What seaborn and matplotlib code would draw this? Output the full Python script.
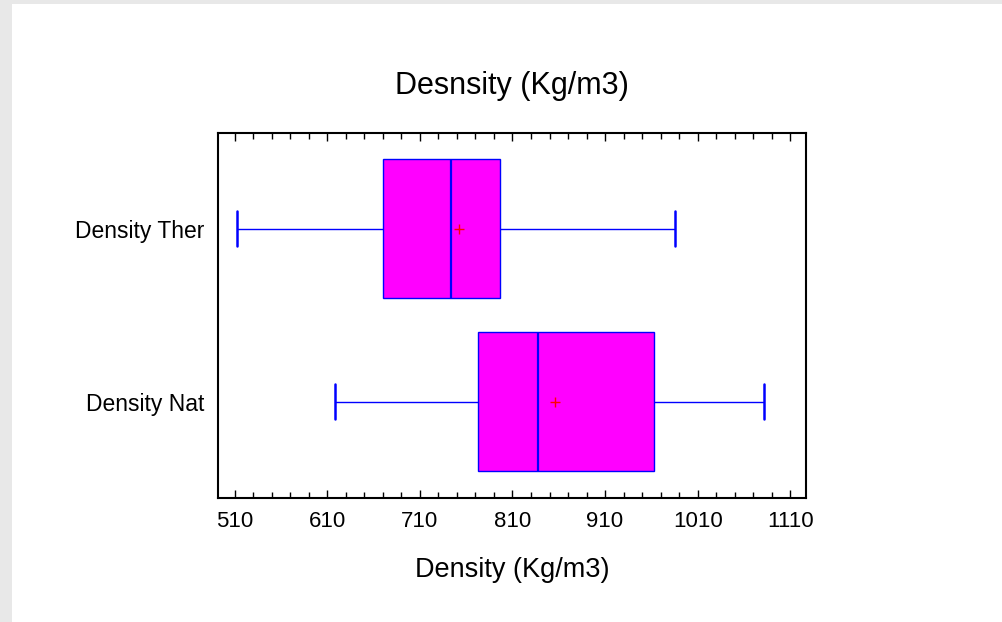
import numpy as np
import pandas as pd
import matplotlib
matplotlib.use("Agg")
import matplotlib.pyplot as plt
from matplotlib.patches import Rectangle
from matplotlib.ticker import FixedLocator
import seaborn as sns

# Five-number summaries (min, Q1, median, Q3, max)
groups = ["Density Ther", "Density Nat"]
ther_summary = [513, 670, 744, 797, 986]
nat_summary = [618, 773, 838, 963, 1082]
means = [752, 856]
major_ticks = [510, 610, 710, 810, 910, 1010, 1110]

title = "Desnsity (Kg/m3)"
xlabel = "Density (Kg/m3)"

# long-form table for seaborn
df = pd.DataFrame({
    "group": [groups[0]] * len(ther_summary) + [groups[1]] * len(nat_summary),
    "density": ther_summary + nat_summary,
})

sns.set_theme(style="ticks")
plt.rcParams["font.family"] = ["Liberation Sans", "DejaVu Sans"]
plt.rcParams["text.color"] = "black"
plt.rcParams["axes.labelcolor"] = "black"

fig = plt.figure(figsize=(10.03, 6.22), dpi=100)
fig.patch.set_facecolor("#e8e8e8")
# white panel with thin grey border on left and top (kept behind the axes)
fig.patches.append(Rectangle((12 / 1003, 0), 1 - 12 / 1003, 1 - 4 / 622,
                             transform=fig.transFigure, facecolor="white",
                             edgecolor="none", zorder=-10))

ax = fig.add_axes([218 / 1003, 1 - 497.7 / 622, 588 / 1003, 364.7 / 622])
ax.set_facecolor("white")

sns.boxplot(data=df, x="density", y="group", order=groups, orient="h",
            whis=(0, 100), width=0.8, saturation=1,
            color="#ff00ff", linecolor="#0000ff", linewidth=1,
            capwidths=0.2,
            medianprops={"linewidth": 1.6},
            capprops={"linewidth": 1.8},
            whiskerprops={"linewidth": 1.0},
            ax=ax)

# means as red crosses
ax.scatter(means, np.arange(len(groups)), marker="+", color="red",
           s=45, linewidths=1, zorder=5)

ax.set_xlim(492, 1127)
ax.set_ylim(1.555, -0.553)
ax.xaxis.set_major_locator(FixedLocator(major_ticks))
ax.xaxis.set_minor_locator(FixedLocator(np.arange(510, 1130, 20)))
ax.set_xticklabels([str(t) for t in major_ticks])

ax.tick_params(axis="x", which="both", direction="in", top=True, bottom=True,
               colors="black", width=1, labelsize=16, pad=9.5)
ax.tick_params(axis="x", which="major", length=6)
ax.tick_params(axis="x", which="minor", length=4)
ax.tick_params(axis="y", which="both", left=False, length=0, labelsize=16.5,
               pad=9.5, colors="black")

for side in ["left", "right", "top", "bottom"]:
    ax.spines[side].set_visible(True)
    ax.spines[side].set_color("black")
    ax.spines[side].set_linewidth(1.5)

ax.set_title(title, fontsize=22, pad=28, color="black")
ax.set_xlabel(xlabel, fontsize=19.5, labelpad=18, color="black")
ax.set_ylabel("")

fig.savefig("out.png", dpi=100, facecolor=fig.get_facecolor())
